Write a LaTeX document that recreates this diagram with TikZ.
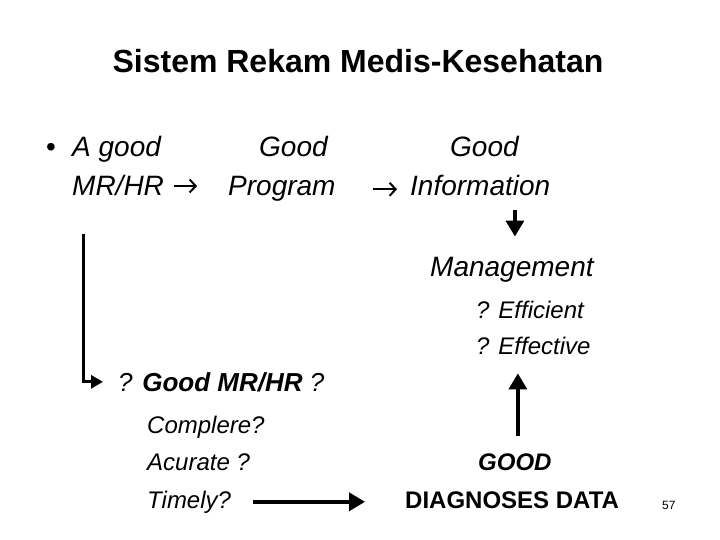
\documentclass[tikz,border=0pt]{standalone}
\usepackage{fontspec}
\setmainfont{Liberation Sans}
\usepackage{tikz}
\usetikzlibrary{calc, positioning, arrows.meta}

\begin{document}
\begin{tikzpicture}[x=1pt, y=-1pt,
    txt/.style={inner sep=0pt, anchor=base west, font=\fontsize{28}{30}\selectfont\itshape},
    sub/.style={inner sep=0pt, anchor=base west, font=\fontsize{24}{26}\selectfont\itshape},
    bigarrow/.style={line width=3.5pt, -{Triangle[length=16pt,width=18pt]}},
    thinarrow/.style={line width=2pt, -{Straight Barb[length=6pt,width=13pt]}}]
                    \useasboundingbox (0,0) rectangle (720,540);
                    \node[inner sep=0pt, anchor=base, font=\fontsize{32}{34}\selectfont\bfseries] (title) at (358,73) {Sistem Rekam Medis-Kesehatan};

                    \node[txt, font=\fontsize{28}{30}\selectfont] (bullet) at (46,157) {•};
                    \node[txt] (agood) at (72,157) {A good};
                    \node[txt] (good1) at (259,157) {Good};
                    \node[txt] (good2) at (450,157) {Good};
                    \node[txt] (mrhr) at (72,196) {MR/HR};
                    \node[txt] (prog) at (228,196) {Program};
                    \node[txt] (info) at (410,196) {Information};
                    \node[txt] (mgmt) at (430,276) {Management};
                    \node[sub] (effi) at (476,318) {? Efficient};
                    \node[sub] (effe) at (476,354) {? Effective};

                    \node[txt, font=\fontsize{26}{28}\selectfont\itshape] (goodmr) at (118,391) {? \textbf{Good MR/HR} ?};
                    \node[sub] (compl) at (147,433) {Complere?};
                    \node[sub] (acur) at (147,470) {Acurate ?};
                    \node[sub] (timely) at (147,508) {Timely?};
                    \node[sub, font=\fontsize{24}{26}\selectfont\bfseries\itshape] (good) at (478,470) {GOOD};
                    \node[sub, font=\fontsize{24}{26}\selectfont\bfseries] (diag) at (405,508) {DIAGNOSES DATA};
                    \node[inner sep=0pt, anchor=base west, font=\fontsize{12}{14}\selectfont] (page) at (662,509) {57};

                    \coordinate (mrtop) at (83,234);

                    \draw[thinarrow, shorten <=10pt, shorten >=31pt] (mrhr.east) -- (prog.west |- mrhr.east);
                    \draw[thinarrow, shorten <=37pt, shorten >=13pt] (prog.east) -- (info.west |- prog.east);
                    \draw[bigarrow, shorten <=14pt, shorten >=20pt] ($(mgmt.north |- info.south)+(3,0)$) -- ($(mgmt.north)+(3,0)$);
                    \draw[line width=3pt, -{Triangle[length=12pt,width=13pt]}, shorten >=15pt] (mrtop) |- (goodmr.west);
                    \draw[bigarrow, shorten <=17pt, shorten >=19pt] ($(good.north)+(3,0)$) -- ($(good.north |- effe.south)+(3,0)$);
                    \draw[bigarrow, shorten <=22pt, shorten >=40pt] (timely.east) -- (diag.west |- timely.east);
                \end{tikzpicture}
\end{document}
